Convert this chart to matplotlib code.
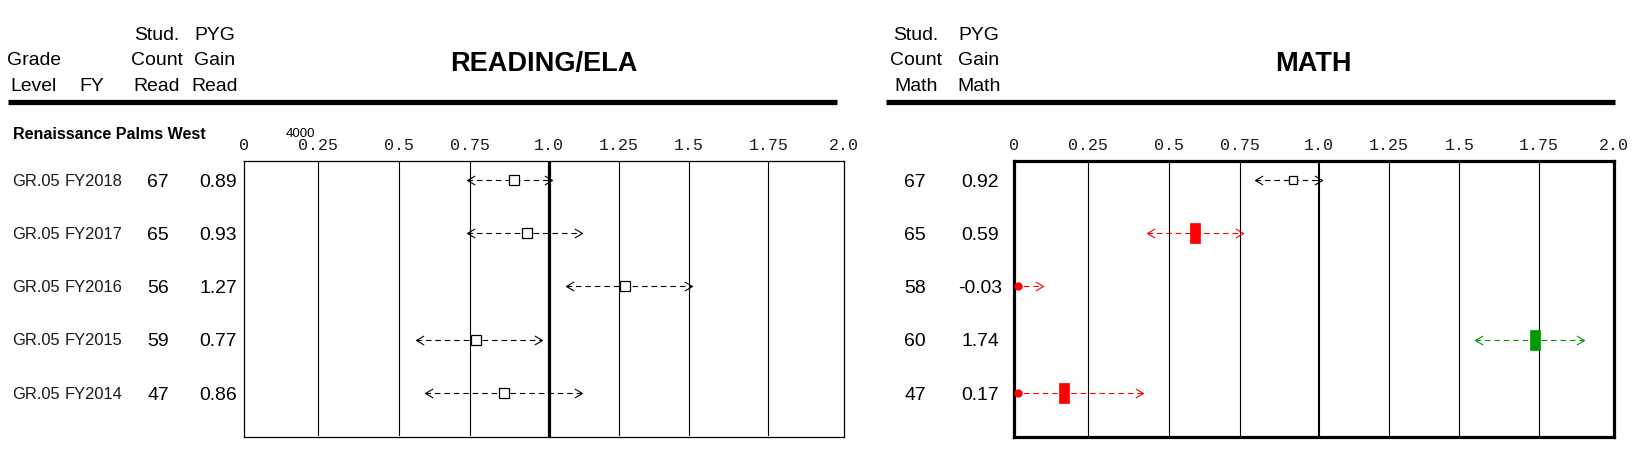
import numpy as np
import matplotlib
matplotlib.use('Agg')
import matplotlib.pyplot as plt
from matplotlib.path import Path
from matplotlib.lines import Line2D
from matplotlib import transforms
from matplotlib import font_manager

# ---------------- data ----------------
grade_level = ['GR.05', 'GR.05', 'GR.05', 'GR.05', 'GR.05']
fiscal_year = ['FY2018', 'FY2017', 'FY2016', 'FY2015', 'FY2014']
read_count = [67, 65, 56, 59, 47]
read_gain = [0.89, 0.93, 1.27, 0.77, 0.86]
read_low = [0.74, 0.74, 1.06, 0.56, 0.59]
read_high = [1.01, 1.12, 1.51, 0.98, 1.12]
read_status = ['none', 'none', 'none', 'none', 'none']
math_count = [67, 65, 58, 60, 47]
math_gain = [0.92, 0.59, -0.03, 1.74, 0.17]
math_low = [0.80, 0.43, -0.15, 1.55, -0.08]
math_high = [1.01, 0.76, 0.10, 1.90, 0.42]
math_status = ['none', 'below', 'below', 'above', 'below']
tick_values = [0, 0.25, 0.5, 0.75, 1.0, 1.25, 1.5, 1.75, 2.0]
tick_labels = ['0', '0.25', '0.5', '0.75', '1.0', '1.25', '1.5', '1.75', '2.0']
school_name = 'Renaissance Palms West'

# ---------------- style ----------------
W, H, DPI = 1632, 472, 100
available = {f.name for f in font_manager.fontManager.ttflist}
NARROW = 'Liberation Sans Narrow' if 'Liberation Sans Narrow' in available else 'Liberation Sans'
nscale = 1.0 if NARROW == 'Liberation Sans Narrow' else 0.93
SANS = 'Liberation Sans'
MONO = 'Liberation Mono'
RED = '#ff0000'
GREEN = '#009a00'
status_color = {'none': 'black', 'below': RED, 'above': GREEN}

# display fractions of the printed grid positions (layout of the report scale)
grid_frac = [0, 0.124, 0.259, 0.376, 0.508, 0.625, 0.742, 0.874, 1.0]


def fwd(x):
    return np.interp(x, tick_values, grid_frac)


def inv(y):
    return np.interp(y, grid_frac, tick_values)


chev_right = Path([(-1.7, 1.0), (0.0, 0.0), (-1.7, -1.0)],
                  [Path.MOVETO, Path.LINETO, Path.LINETO])
chev_left = Path([(1.7, 1.0), (0.0, 0.0), (1.7, -1.0)],
                 [Path.MOVETO, Path.LINETO, Path.LINETO])
tall_rect = Path([(-0.25, -0.5), (0.25, -0.5), (0.25, 0.5), (-0.25, 0.5), (-0.25, -0.5)],
                 [Path.MOVETO, Path.LINETO, Path.LINETO, Path.LINETO, Path.CLOSEPOLY])

fig = plt.figure(figsize=(W / DPI, H / DPI), dpi=DPI)


def fx(px):
    return px / W


def fy(py):
    return 1 - py / H


def cap_shift(size_pt):
    # move baseline down by half the cap height so caps are centred on the anchor
    return transforms.ScaledTranslation(0, -0.358 * size_pt / 72, fig.dpi_scale_trans)


def ctext(xp, yp, s, size, transform=None, y_is_data=False, **kw):
    base = transform if transform is not None else fig.transFigure
    y = yp if y_is_data else fy(yp)
    fig.text(fx(xp), y, s, fontsize=size, va='baseline',
             transform=base + cap_shift(size), **kw)


def make_axes(x0, x1, spine_lw, one_lw):
    top, bottom = 160.5, 436.5
    ax = fig.add_axes([fx(x0), fy(bottom), fx(x1) - fx(x0), (bottom - top) / H])
    ax.set_xscale('function', functions=(fwd, inv))
    ax.set_xlim(0, 2)
    ax.set_ylim(4.82, -0.36)
    ax.set_yticks([])
    ax.set_xticks(tick_values, tick_labels)
    ax.xaxis.tick_top()
    ax.tick_params(axis='x', length=0, pad=5.5, labelsize=12, colors='#1a1a1a',
                   labelfontfamily=MONO)
    ax.minorticks_off()
    for s in ax.spines.values():
        s.set_linewidth(spine_lw)
        s.set_color('black')
    for v in tick_values[1:-1]:
        ax.axvline(v, ymin=0.005, ymax=1, color='black',
                   lw=one_lw if v == 1.0 else 0.8, zorder=1)
    return ax


def draw_rows(ax, gains, lows, highs, statuses, sq_size):
    for i, (g, lo, hi, st) in enumerate(zip(gains, lows, highs, statuses)):
        c = status_color[st]
        start = max(lo, 0)
        ax.plot([start, hi], [i, i], color=c, lw=0.8, ls=(0, (5, 3.5)), zorder=3)
        ax.plot([hi], [i], marker=chev_right, ms=11, mfc='none', mec=c, mew=0.8,
                ls='none', zorder=4)
        if lo >= 0:
            ax.plot([lo], [i], marker=chev_left, ms=11, mfc='none', mec=c, mew=0.8,
                    ls='none', zorder=4)
        else:
            ax.plot([0], [i], marker='o', ms=5, color=c, ls='none', zorder=4,
                    clip_on=False, transform=ax.transData +
                    transforms.ScaledTranslation(4 / DPI, 0, fig.dpi_scale_trans))
        if 0 <= g <= 2:
            if st == 'none':
                ax.plot([g], [i], marker='s', ms=sq_size, mfc='white', mec='black',
                        mew=0.9, ls='none', zorder=5)
            else:
                ax.plot([g], [i], marker=tall_rect, ms=14.4, mfc=c, mec=c, mew=0.5,
                        ls='none', zorder=5)


ax_r = make_axes(244, 844, 0.9, 2.3)
ax_m = make_axes(1013.7, 1614.3, 2.3, 1.5)

draw_rows(ax_r, read_gain, read_low, read_high, read_status, 6.6)
draw_rows(ax_m, math_gain, math_low, math_high, math_status, 6.0)

# ---------------- header ----------------
HS = 15 * nscale
hdr = dict(fontfamily=NARROW, color='black', ha='center')
ctext(34, 58, 'Grade', HS, **hdr)
ctext(34, 84, 'Level', HS, **hdr)
ctext(92, 84, 'FY', HS, **hdr)
for xc, lines in [(157, ['Stud.', 'Count', 'Read']), (215, ['PYG', 'Gain', 'Read']),
                  (916, ['Stud.', 'Count', 'Math']), (979, ['PYG', 'Gain', 'Math'])]:
    for yy, t in zip([33, 58, 84], lines):
        ctext(xc, yy, t, HS, **hdr)

ctext(544, 61, 'READING/ELA', 19.5, fontfamily=SANS, fontweight='bold', ha='center')
ctext(1313, 61, 'MATH', 19.5, fontfamily=SANS, fontweight='bold', ha='center')

fig.add_artist(Line2D([fx(8), fx(837)], [fy(102), fy(102)], color='black', lw=3.8,
                      solid_capstyle='butt'))
fig.add_artist(Line2D([fx(886), fx(1615)], [fy(102), fy(102)], color='black', lw=3.8,
                      solid_capstyle='butt'))

ctext(13, 133, school_name, 11.5, fontfamily=SANS, fontweight='bold', ha='left')
ctext(300, 132, '4000', 9.5, fontfamily=NARROW, ha='center')

# ---------------- row labels ----------------
row_tr = transforms.blended_transform_factory(fig.transFigure, ax_r.transData)
LS = 12.8 * nscale
NS = 15 * nscale
lab = dict(fontfamily=NARROW, color='#1a1a1a', transform=row_tr, y_is_data=True)
num = dict(fontfamily=NARROW, color='black', transform=row_tr, y_is_data=True)
for i in range(len(fiscal_year)):
    ctext(12, i, grade_level[i], LS, ha='left', **lab)
    ctext(65, i, fiscal_year[i], LS, ha='left', **lab)
    ctext(158, i, str(read_count[i]), NS, ha='center', **num)
    ctext(218, i, f'{read_gain[i]:.2f}', NS, ha='center', **num)
    ctext(915, i, str(math_count[i]), NS, ha='center', **num)
    ctext(980, i, f'{math_gain[i]:.2f}', NS, ha='center', **num)

fig.savefig('out.png', dpi=DPI, facecolor='white')
